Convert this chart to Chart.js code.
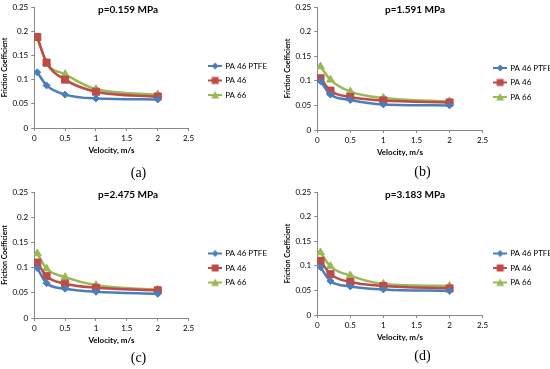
<!DOCTYPE html>
<html>
<head>
<meta charset="utf-8">
<script src="https://cdn.jsdelivr.net/npm/chart.js@4.4.1/dist/chart.umd.min.js"></script>
<style>
	html, body { margin: 0; padding: 0; background: #fff; }
	#wrap { width: 550px; height: 369px; display: grid; grid-template-columns: 275px 275px; grid-template-rows: 185px 184px; }
	.cell { position: relative; width: 275px; }
</style>
</head>
<body>
<div id="wrap">
	<div class="cell" style="height:185px"><canvas id="chartA"></canvas></div>
	<div class="cell" style="height:185px"><canvas id="chartB"></canvas></div>
	<div class="cell" style="height:184px"><canvas id="chartC"></canvas></div>
	<div class="cell" style="height:184px"><canvas id="chartD"></canvas></div>
</div>
<script>
// velocities (m/s)
const velocity = [0.05, 0.2, 0.5, 1, 2];
const xTicks = [0, 0.5, 1, 1.5, 2, 2.5];
const xLabels = ['0', '0.5', '1', '1.5', '2', '2.5'];
const yTicks = [0, 0.05, 0.1, 0.15, 0.2, 0.25];
const yLabels = ['0', '0.05', '0.1', '0.15', '0.2', '0.25'];
const seriesNames = ['PA 46 PTFE', 'PA 46', 'PA 66'];
const titles = ['p=0.159 MPa', 'p=1.591 MPa', 'p=2.475 MPa', 'p=3.183 MPa'];
const captions = ['(a)', '(b)', '(c)', '(d)'];

// friction coefficients
const ptfeA = [0.115, 0.088, 0.069, 0.061, 0.059];
const pa46A = [0.188, 0.135, 0.100, 0.075, 0.065];
const pa66A = [0.186, 0.135, 0.111, 0.080, 0.069];

const ptfeB = [0.099, 0.072, 0.061, 0.052, 0.050];
const pa46B = [0.105, 0.080, 0.067, 0.060, 0.056];
const pa66B = [0.129, 0.102, 0.078, 0.065, 0.058];

const ptfeC = [0.099, 0.069, 0.058, 0.052, 0.048];
const pa46C = [0.110, 0.083, 0.068, 0.060, 0.055];
const pa66C = [0.128, 0.098, 0.081, 0.065, 0.056];

const ptfeD = [0.097, 0.069, 0.058, 0.052, 0.049];
const pa46D = [0.110, 0.083, 0.067, 0.059, 0.054];
const pa66D = [0.127, 0.099, 0.080, 0.063, 0.059];

const colors = ['#4A7EBB', '#BE4B48', '#98B954'];
const styles = ['rectRot', 'rect', 'triangle'];
const radii = [3.5, 5, 4.5];

// small line+marker image for the legend, like Excel
function legendIcon(i) {
	const c = document.createElement('canvas');
	c.width = 14; c.height = 10;
	const g = c.getContext('2d');
	g.strokeStyle = colors[i];
	g.fillStyle = colors[i];
	g.lineWidth = 2;
	g.beginPath(); g.moveTo(0, 5); g.lineTo(14, 5); g.stroke();
	g.beginPath();
	if (i == 0) { g.moveTo(7, 1.5); g.lineTo(10.5, 5); g.lineTo(7, 8.5); g.lineTo(3.5, 5); }
	else if (i == 1) { g.rect(3.5, 1.5, 7, 7); }
	else { g.moveTo(7, 1); g.lineTo(11, 8.5); g.lineTo(3, 8.5); }
	g.closePath(); g.fill();
	return c;
}
const icons = [legendIcon(0), legendIcon(1), legendIcon(2)];

function makeChart(id, idx, rows, pad) {
	const ctx = document.getElementById(id).getContext('2d');
	const datasets = rows.map((r, i) => ({
		label: seriesNames[i],
		data: velocity.map((v, k) => ({ x: v, y: r[k] })),
		borderColor: colors[i],
		backgroundColor: colors[i],
		borderWidth: 2.5,
		pointStyle: styles[i],
		pointRadius: radii[i],
		pointBorderWidth: 1,
		cubicInterpolationMode: 'monotone',
	}));
	// nudge title and legend the way Excel placed them
	const nudge = {
		id: 'nudge',
		afterLayout(chart) {
			chart.titleBlock.left = 0;
			chart.titleBlock.right = pad.tc * 2;
			chart.legend.bottom += pad.ly * 2;
		}
	};
	return new Chart(ctx, {
		type: 'line',
		data: { datasets: datasets },
		plugins: [nudge],
		options: {
			responsive: true,
			maintainAspectRatio: false,
			animation: false,
			layout: { padding: { left: pad.left, right: pad.right, top: 0, bottom: 0 } },
			plugins: {
				title: {
					display: true,
					text: titles[idx],
					color: '#000',
					font: { family: 'Lato', size: 10, weight: 'bold' },
					padding: { top: -3, bottom: -9 },
				},
				subtitle: {
					display: true,
					position: 'bottom',
					text: captions[idx],
					color: '#000',
					font: { family: 'Liberation Serif', size: 14 },
					padding: { top: pad.cap, bottom: pad.bottom },
				},
				legend: {
					position: 'right',
					maxWidth: 90,
					labels: {
						usePointStyle: true,
						pointStyleWidth: 12,
						boxHeight: 8,
						padding: 6.5,
						color: '#000',
						font: { family: 'Lato', size: 8 },
						generateLabels: function(chart) {
							const items = Chart.defaults.plugins.legend.labels.generateLabels(chart);
							items.forEach((it, i) => { it.pointStyle = icons[i]; });
							return items;
						}
					}
				},
				tooltip: { enabled: false }
			},
			scales: {
				x: {
					type: 'linear',
					min: 0, max: 2.5,
					afterBuildTicks: ax => { ax.ticks = xTicks.map(v => ({ value: v })); },
					grid: { drawOnChartArea: false, drawTicks: true, tickLength: 3, color: '#888' },
					border: { color: '#888' },
					ticks: { color: '#000', font: { family: 'Lato', size: 8 }, padding: 3, maxRotation: 0,
						callback: (v, i) => xLabels[i] },
					title: { display: true, text: 'Velocity, m/s', color: '#000', font: { family: 'Lato', size: 8, weight: 'bold' }, padding: { top: -1, bottom: 0 } }
				},
				y: {
					min: 0, max: 0.25,
					afterBuildTicks: ax => { ax.ticks = yTicks.map(v => ({ value: v })); },
					grid: { drawOnChartArea: false, drawTicks: true, tickLength: 3, color: '#888' },
					border: { color: '#888' },
					ticks: { color: '#000', font: { family: 'Lato', size: 8, lineHeight: 1 }, padding: 3,
						callback: (v, i) => yLabels[i] },
					title: { display: true, text: 'Friction Coefficient', color: '#000', font: { family: 'Lato', size: 7, weight: 'bold' }, padding: { top: 1, bottom: 0 } }
				},
				// empty spacer between the plot and the legend
				gap: {
					type: 'linear',
					position: 'right',
					display: true,
					grid: { display: false },
					border: { display: false },
					ticks: { display: false },
					afterFit: s => { s.width = pad.gap; }
				}
			}
		}
	});
}

makeChart('chartA', 0, [ptfeA, pa46A, pa66A], { left: 0, right: -2, gap: 14, cap: 10, bottom: 3, tc: 128, ly: -12 });
makeChart('chartB', 1, [ptfeB, pa46B, pa66B], { left: 8, right: -12, gap: 5, cap: 7, bottom: 4, tc: 140, ly: -10 });
makeChart('chartC', 2, [ptfeC, pa46C, pa66C], { left: 0, right: -2, gap: 14, cap: 5, bottom: 2, tc: 128, ly: -9 });
makeChart('chartD', 3, [ptfeD, pa46D, pa66D], { left: 8, right: -12, gap: 5, cap: 6, bottom: 4, tc: 140, ly: -9 });
</script>
</body>
</html>
